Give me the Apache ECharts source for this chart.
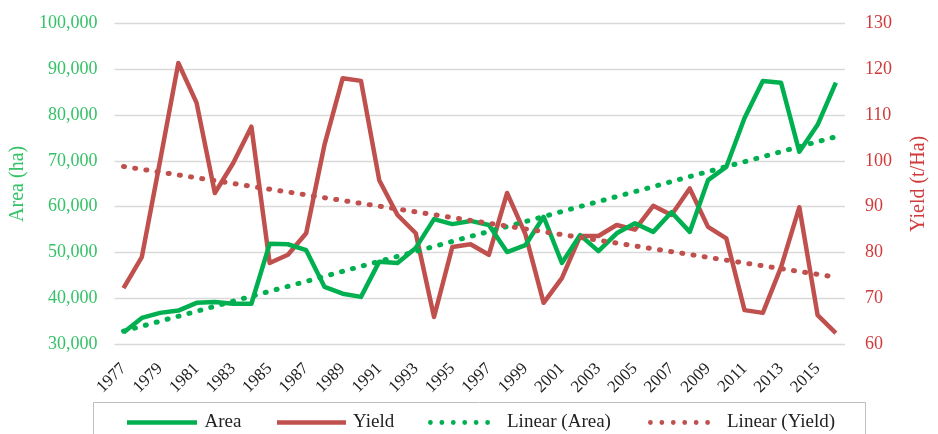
<!DOCTYPE html>
<html>
<head>
<meta charset="utf-8">
<script src="https://cdn.jsdelivr.net/npm/echarts@6/dist/echarts.min.js"></script>
<style>html,body{margin:0;padding:0;background:#fff}#c{width:938px;height:434px}</style>
</head>
<body>
<div id="c"></div>
<script>
var years = [];
for (var y = 1977; y <= 2016; y++) years.push(String(y));

var area = [32500, 35700, 36800, 37300, 39000, 39200, 38800, 38800, 51900, 51800,
            50500, 42500, 41000, 40300, 48000, 47700, 51000, 57300, 56200, 56900,
            56000, 50100, 51600, 57800, 47700, 53800, 50300, 54200, 56400, 54500,
            58800, 54500, 65800, 68700, 79400, 87500, 87100, 72000, 77900, 87100];

var yieldV = [72.2, 79.0, 100.0, 121.4, 112.7, 93.0, 99.5, 107.5, 77.7, 79.5,
              84.2, 103.5, 118.1, 117.5, 95.8, 88.2, 84.2, 65.9, 81.2, 81.8,
              79.5, 93.0, 84.0, 69.0, 74.4, 83.6, 83.6, 86.0, 85.0, 90.2,
              88.2, 94.0, 85.6, 83.1, 67.4, 66.8, 76.8, 89.9, 66.3, 62.4];

// trend line endpoints (first year, last year)
var trendArea = [32800, 75300];
var trendYield = [98.8, 74.6];

var areaTicks = [30000, 100000, 10000];
var yieldTicks = [60, 130, 10];

function ends(pair) {
  var d = years.map(function () { return null; });
  d[0] = pair[0];
  d[d.length - 1] = pair[1];
  return d;
}

var GREEN = '#00B050', RED = '#C0504D';
var GREEN_T = '#33C266', RED_T = '#D03A3A';
var FONT = 'Liberation Serif';

var solidIcon = 'path://M0,0H70V4.5H0Z';
var dotPath = 'path://';
for (var k = 0; k < 6; k++) {
  var cx = 2.5 + 11.9 * k;
  dotPath += 'M' + (cx - 2.5) + ',2.5a2.5,2.5 0 1,0 5,0a2.5,2.5 0 1,0 -5,0Z';
}

var chart = echarts.init(document.getElementById('c'));
function lg(name, left, icon, w, h, gap) {
  return {
    left: left, top: 413, padding: 0, itemGap: 0,
    itemWidth: w, itemHeight: h,
    data: [{ name: name, icon: icon }],
    textStyle: { fontFamily: FONT, fontSize: 19, color: '#222', padding: [0, 0, 0, gap] }
  };
}
chart.setOption({
  animation: false,
  textStyle: { fontFamily: FONT },
  grid: { left: 111, right: 93, top: 23.7, bottom: 90 },
  graphic: [{
    type: 'rect', shape: { x: 93.5, y: 402.5, width: 772, height: 40 },
    style: { fill: 'none', stroke: '#bfbfbf', lineWidth: 1 }
  }],
  legend: [
    lg('Area', 127, solidIcon, 71, 4.5, 2),
    lg('Yield', 277, solidIcon, 69, 4.5, 2),
    lg('Linear (Area)', 428, dotPath, 62, 5, 12),
    lg('Linear (Yield)', 648, dotPath, 62, 5, 12)
  ],
  xAxis: {
    type: 'category', data: years, boundaryGap: true,
    axisLine: { show: false }, axisTick: { show: false },
    axisLabel: { interval: 1, rotate: 45, fontSize: 17, color: '#222', margin: 22, fontFamily: FONT }
  },
  yAxis: [{
    type: 'value', min: areaTicks[0], max: areaTicks[1], interval: areaTicks[2],
    name: 'Area (ha)', nameLocation: 'middle', nameGap: 81, nameRotate: 90,
    nameTextStyle: { color: GREEN_T, fontSize: 20, fontFamily: FONT },
    axisLine: { show: false }, axisTick: { show: false },
    axisLabel: { color: GREEN_T, fontSize: 18, margin: 17, fontFamily: FONT,
      formatter: function (v) { return v.toLocaleString('en-US'); } },
    splitLine: { lineStyle: { color: '#d9d9d9', width: 1.3 } }
  }, {
    type: 'value', min: yieldTicks[0], max: yieldTicks[1], interval: yieldTicks[2],
    name: 'Yield (t/Ha)', nameLocation: 'middle', nameGap: 64, nameRotate: 90,
    nameTextStyle: { color: RED_T, fontSize: 20, fontFamily: FONT },
    axisLine: { show: false }, axisTick: { show: false },
    axisLabel: { color: RED_T, fontSize: 18, margin: 20, fontFamily: FONT },
    splitLine: { show: false }
  }],
  series: [{
    name: 'Area', type: 'line', data: area, yAxisIndex: 0, symbol: 'none',
    lineStyle: { color: GREEN, width: 4.5, join: 'round' }, itemStyle: { color: GREEN }, z: 3
  }, {
    name: 'Yield', type: 'line', data: yieldV, yAxisIndex: 1, symbol: 'none',
    lineStyle: { color: RED, width: 4.5, join: 'round' }, itemStyle: { color: RED }, z: 2
  }, {
    name: 'Linear (Area)', type: 'line', data: ends(trendArea), yAxisIndex: 0, symbol: 'none',
    connectNulls: true,
    lineStyle: { color: GREEN, width: 5, type: [1, 10.3], cap: 'round' }, itemStyle: { color: GREEN }, z: 4
  }, {
    name: 'Linear (Yield)', type: 'line', data: ends(trendYield), yAxisIndex: 1, symbol: 'none',
    connectNulls: true,
    lineStyle: { color: RED, width: 5, type: [1, 10.3], cap: 'round' }, itemStyle: { color: RED }, z: 4
  }]
});
</script>
</body>
</html>
